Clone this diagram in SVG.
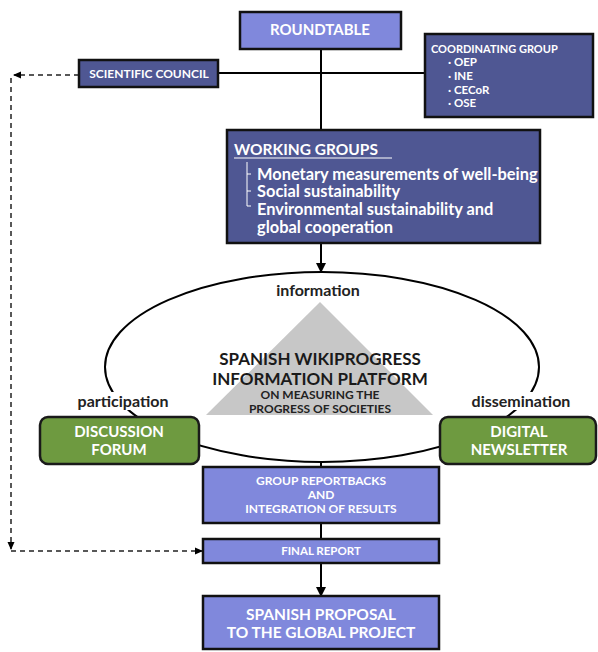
<svg xmlns="http://www.w3.org/2000/svg" width="598" height="652" viewBox="0 0 598 652">
<defs>
<marker id="ah" markerWidth="10" markerHeight="10" refX="9" refY="5" orient="auto" markerUnits="userSpaceOnUse"><path d="M0,0 L10,5 L0,10 Z" fill="#000"/></marker>
<marker id="ahs" markerWidth="8" markerHeight="8" refX="7" refY="4" orient="auto" markerUnits="userSpaceOnUse"><path d="M0,0.5 L8,4 L0,7.5 Z" fill="#000"/></marker>
<style>
text{font-family:Lato,"Open Sans","Liberation Sans",sans-serif;font-weight:bold}
.light{fill:#8088dc;stroke:#111;stroke-width:2.5}
.dark{fill:#4f5793;stroke:#111;stroke-width:2.5}
.green{fill:#6e9a40;stroke:#1a1a1a;stroke-width:2.5}
.w{fill:#fff}
.c{text-anchor:middle}
.ln{stroke:#000;stroke-width:2;fill:none}
.dash{stroke:#222;stroke-width:1.5;fill:none;stroke-dasharray:5,4}
.lbl{fill:#222;font-size:16px}
</style>
</defs>
<rect width="598" height="652" fill="#fff"/>
<g id="connectors">
<line class="ln" x1="321" y1="49" x2="321" y2="130"/>
<line class="ln" x1="218" y1="73" x2="425" y2="73"/>
<line class="ln" x1="321" y1="243" x2="321" y2="272" marker-end="url(#ah)"/>
<ellipse class="ln" cx="322" cy="367" rx="217" ry="95"/>
<line class="ln" x1="321" y1="461" x2="321" y2="467"/>
<line class="ln" x1="321" y1="523" x2="321" y2="539"/>
<line class="ln" x1="321" y1="563" x2="321" y2="596" marker-end="url(#ah)"/>
<polyline class="dash" points="79,75 14,75" marker-end="url(#ahs)"/>
<polyline class="dash" points="11,78 11,549" marker-end="url(#ahs)"/>
<polyline class="dash" points="11,551 202,551" marker-end="url(#ahs)"/>
</g>
<g id="platform">
<polygon points="320,302 206,415 433,415" fill="#c7c7c7"/>
<text class="c" x="320" y="365" font-size="17" fill="#1a1a1a">SPANISH WIKIPROGRESS</text>
<text class="c" x="320" y="385" font-size="17" fill="#1a1a1a">INFORMATION PLATFORM</text>
<text class="c" x="320" y="399" font-size="12" fill="#222">ON MEASURING THE</text>
<text class="c" x="320" y="413" font-size="12" fill="#222">PROGRESS OF SOCIETIES</text>
</g>
<g id="label-information">
<rect x="272" y="280" width="96" height="18" fill="#fff"/>
<text class="c lbl" x="318" y="296">information</text>
</g>
<g id="label-participation">
<rect x="74" y="392" width="98" height="18" fill="#fff"/>
<text class="c lbl" x="123" y="407">participation</text>
</g>
<g id="label-dissemination">
<rect x="468" y="392" width="106" height="18" fill="#fff"/>
<text class="c lbl" x="521" y="407">dissemination</text>
</g>
<g id="roundtable">
<rect class="light" x="240" y="12" width="161" height="37"/>
<text class="c w" x="320" y="35" font-size="15">ROUNDTABLE</text>
</g>
<g id="coordinating-group">
<rect class="dark" x="425" y="34" width="168" height="83"/>
<text class="w" x="431" y="53" font-size="11">COORDINATING GROUP</text>
<text class="w" x="448" y="66" font-size="11.5">· OEP</text>
<text class="w" x="448" y="80" font-size="11.5">· INE</text>
<text class="w" x="448" y="94" font-size="11.5">· CECoR</text>
<text class="w" x="448" y="107" font-size="11.5">· OSE</text>
</g>
<g id="scientific-council">
<rect class="dark" x="79" y="60" width="139" height="27"/>
<text class="c w" x="149" y="78" font-size="12">SCIENTIFIC COUNCIL</text>
</g>
<g id="working-groups">
<rect class="dark" x="227" y="130" width="313" height="113"/>
<text class="w" x="234" y="155" font-size="15.5">WORKING GROUPS</text>
<line x1="234" y1="158" x2="392" y2="158" stroke="#fff" stroke-width="1.2"/>
<path d="M247,162 V206 M247,174 H251 M247,191 H251 M247,206 H251" stroke="#fff" stroke-width="1" fill="none"/>
<text class="w" x="257" y="180" font-size="16.4">Monetary measurements of well-being</text>
<text class="w" x="257" y="197" font-size="16.4">Social sustainability</text>
<text class="w" x="257" y="215" font-size="16.4">Environmental  sustainability and</text>
<text class="w" x="257" y="233" font-size="16.4">global cooperation</text>
</g>
<g id="discussion-forum">
<rect class="green" x="40" y="417" width="159" height="47" rx="8"/>
<text class="c w" x="119" y="437" font-size="15">DISCUSSION</text>
<text class="c w" x="119" y="455" font-size="15">FORUM</text>
</g>
<g id="digital-newsletter">
<rect class="green" x="440" y="417" width="156" height="47" rx="8"/>
<text class="c w" x="519" y="437" font-size="15">DIGITAL</text>
<text class="c w" x="519" y="455" font-size="15">NEWSLETTER</text>
</g>
<g id="group-reportbacks">
<rect class="light" x="203" y="467" width="236" height="56"/>
<text class="c w" x="321" y="485" font-size="12">GROUP REPORTBACKS</text>
<text class="c w" x="321" y="499" font-size="12">AND</text>
<text class="c w" x="321" y="513" font-size="12">INTEGRATION OF RESULTS</text>
</g>
<g id="final-report">
<rect class="light" x="203" y="539" width="236" height="24"/>
<text class="c w" x="321" y="555" font-size="11.5">FINAL REPORT</text>
</g>
<g id="spanish-proposal">
<rect class="light" x="203" y="596" width="236" height="53"/>
<text class="c w" x="321" y="620" font-size="15.5">SPANISH PROPOSAL</text>
<text class="c w" x="321" y="638" font-size="15.5">TO THE GLOBAL PROJECT</text>
</g>
</svg>
